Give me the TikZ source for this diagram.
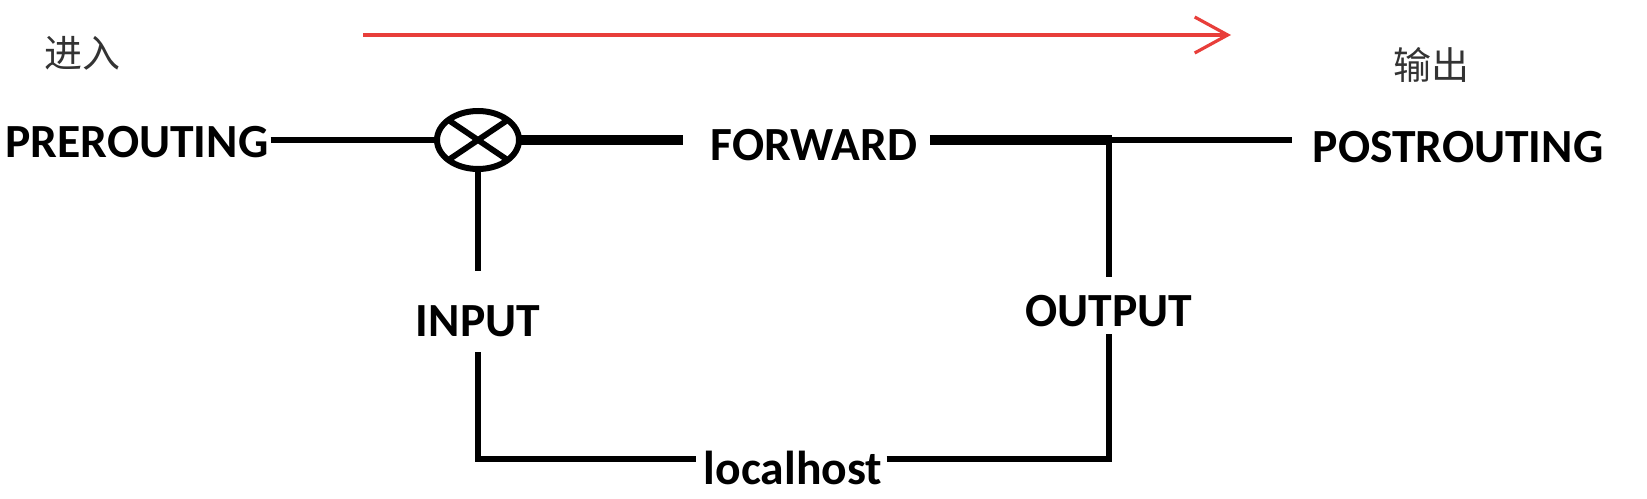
\documentclass[tikz,border=0pt]{standalone}
\usepackage{fontspec}
\setmainfont{Carlito}
\newfontfamily\cjk{Noto Sans CJK SC}
\usetikzlibrary{ shapes.geometric, % For the ellipse node
                 arrows.meta,
                 positioning,
               }
\tikzstyle{hook_text} = [font=\bfseries\fontsize{23.8}{28}\selectfont, inner sep=0pt]
\tikzstyle{cn_text} = [font=\cjk\fontsize{19}{22}\selectfont, text=black!80, inner sep=0pt]
\tikzstyle{wire_thin} = [line width=2.9pt]
\tikzstyle{wire_thick} = [line width=5.2pt]
\tikzstyle{mixer} = [ellipse, draw=black, line width=3pt, minimum width=41pt, minimum height=29pt, inner sep=0pt, outer sep=0pt]
\tikzstyle{flow_arrow} = [draw={rgb,255:red,232;green,62;blue,58}, line width=1.6pt, -{Straight Barb[length=16.5pt, width=18pt]}]

\begin{document}
\begin{tikzpicture}[x=0.5pt, y=-0.5pt]
  \useasboundingbox (0,0) rectangle (1647,498);
  % direction of the packets
  \node (enter) [cn_text] at (82,53) {进入};
  \node (exit) [cn_text] at (1431,65) {输出};
  \coordinate (fa) at (363,35);
  \coordinate (fb) at (1231,35);
  \draw [flow_arrow] (fa) -- (fb);

  % hooks
  \node (pre) [hook_text, anchor=west] at (5,142) {PREROUTING};
  \node (circ) [mixer] at (478,140) {};
  \node (fwd) [hook_text] at (814,145) {FORWARD};
  \node (post) [hook_text] at (1458,147) {POSTROUTING};
  \node (inp) [hook_text] at (478,321) {INPUT};
  \node (outp) [hook_text] at (1109,311) {OUTPUT};
  \node (lh) [hook_text] at (793,468) {localhost};
  \coordinate (jn) at (1109,140);
  \coordinate (cl) at (478,459);
  \coordinate (cr) at (1109,459);

  \draw [wire_thin] (circ.146) -- (circ.326);
  \draw [wire_thin] (circ.34) -- (circ.214);

  % main path
  \draw [wire_thin, shorten <=1pt] (pre.east |- circ.west) -- (circ.west);
  \draw [wire_thick, shorten >=13.5pt] (circ.east) -- (circ.east -| fwd.west);
  \draw [wire_thick, shorten <=6pt] (fwd.east |- jn) -- ([xshift=1.5pt]jn);
  \draw [wire_thin, shorten >=10pt] (jn) -- (jn -| post.west);

  % local path
  \draw [wire_thin, shorten >=17pt] (circ.south) -- (inp.north);
  \draw [wire_thin, shorten <=7.5pt, shorten >=4pt] (inp.south) -- (cl) -- (cl -| lh.west);
  \draw [wire_thin, shorten <=2pt, shorten >=3.5pt] (cr -| lh.east) -- (cr) -- (outp.south);
  \draw [wire_thin, shorten >=9pt] (jn) -- (outp.north);
\end{tikzpicture}
\end{document}
